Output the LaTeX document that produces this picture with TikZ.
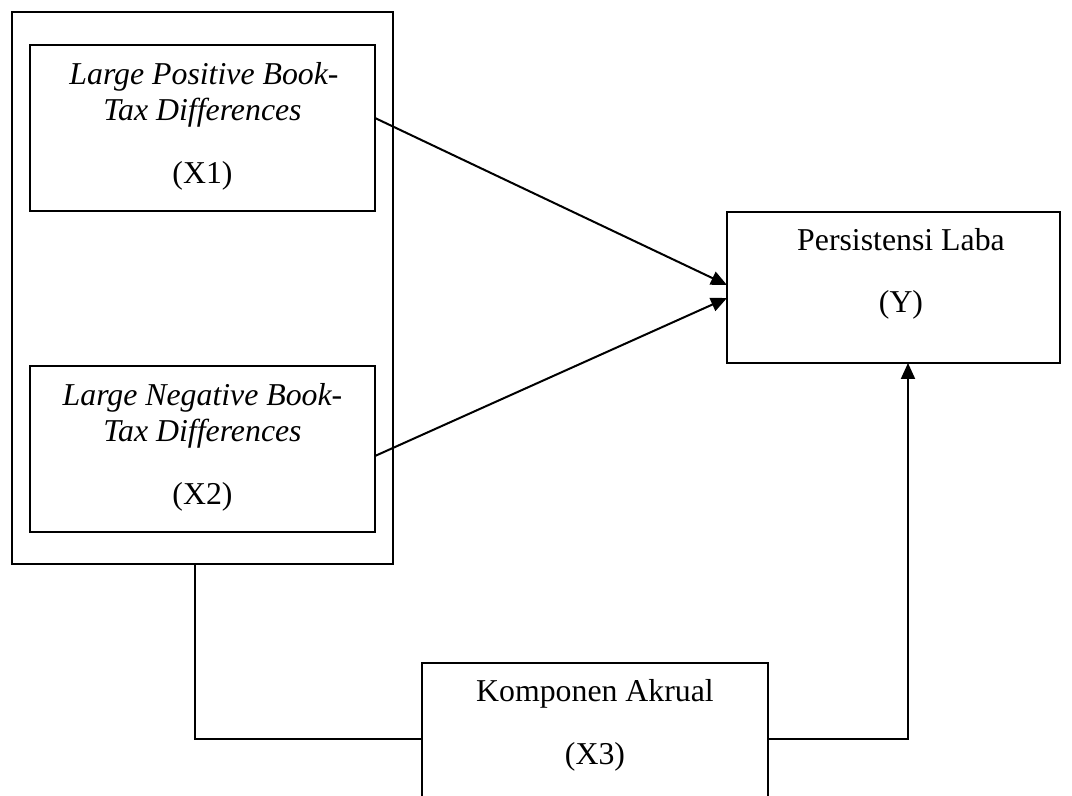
\documentclass[tikz,border=0pt]{standalone}
\usepackage{fontspec}
\setmainfont{Liberation Serif}
\usetikzlibrary{arrows.meta,calc}
\begin{document}
\begin{tikzpicture}[x=0.5pt,y=-0.5pt,
  box/.style={draw,line width=1pt,rectangle,inner sep=0pt,outer sep=0pt},
  lbl/.style={anchor=base,inner sep=0pt,font=\fontsize{15.9}{18}\selectfont},
  link/.style={line width=1pt},
  arr/.style={line width=1pt,-{Triangle[length=8pt,width=7pt]}}]
\clip (0,0) rectangle (1072,796);
\useasboundingbox (0,0) rectangle (1072,796);
\node[box,minimum width=190.5pt,minimum height=276pt] (outer) at (202.5,288) {};
\node[box,minimum width=172.5pt,minimum height=83pt] (x1) at (202.5,128) {};
\node[box,minimum width=172.5pt,minimum height=83pt] (x2) at (202.5,449) {};
\node[box,minimum width=166.5pt,minimum height=75.5pt] (y) at (893.5,287.5) {};
\node[box,minimum width=173pt,minimum height=80pt] (x3) at (595,743) {};
\node[lbl] (x1a) at (204,85) {\itshape Large Positive Book-};
\node[lbl] (x1b) at (202.5,121) {\itshape Tax Differences};
\node[lbl] (x1c) at (202.5,184) {(X1)};
\node[lbl] (x2a) at (202.5,406) {\itshape Large Negative Book-};
\node[lbl] (x2b) at (202.5,442) {\itshape Tax Differences};
\node[lbl] (x2c) at (202.5,505) {(X2)};
\node[lbl] (ya) at (901,251) {Persistensi Laba};
\node[lbl] (yb) at (901,313) {(Y)};
\node[lbl] (x3a) at (595,702) {Komponen Akrual};
\node[lbl] (x3b) at (595,764) {(X3)};
\coordinate (s1) at (375,118);
\coordinate (e1) at (727,285);
\coordinate (s2) at (375,456);
\coordinate (e2) at (727,298);
\coordinate (c1) at (195,739);
\coordinate (c2) at (908,739);
\draw[arr] (x1.east |- s1) -- (y.west |- e1);
\draw[arr] (x2.east |- s2) -- (y.west |- e2);
\draw[link] (outer.south -| c1) -- (c1) -- (x3.west |- c1);
\draw[arr] (x3.east |- c2) -- (c2) -- (y.south -| c2);
\end{tikzpicture}
\end{document}
